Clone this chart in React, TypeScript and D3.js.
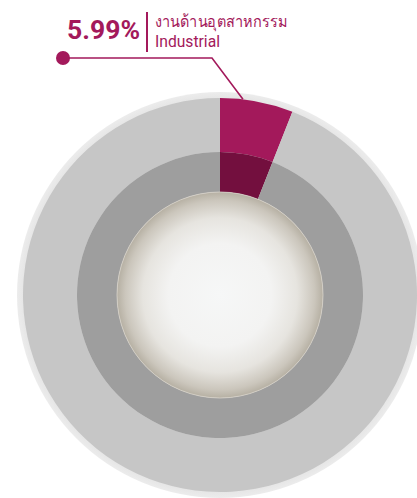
import React from "react";
import * as d3 from "d3";

const categories = ["งานด้านอุตสาหกรรม", "อื่นๆ"];
const categoriesEn = ["Industrial", "Other"];
const values = [5.99, 94.01];
const valueLabel = "5.99%";

const W = 417;
const H = 498;
const cx = 220;
const cy = 295;

export default function App() {
  const pie = d3.pie<number>().sort(null).value((d) => d)(values);
  const outerArc = d3.arc<d3.PieArcDatum<number>>().innerRadius(143).outerRadius(197);
  const innerArc = d3.arc<d3.PieArcDatum<number>>().innerRadius(103).outerRadius(143);
  const outerColors = ["#A3195B", "#C6C6C6"];
  const innerColors = ["#730F3E", "#9E9E9E"];

  const a0 = pie[0].startAngle + (pie[0].endAngle - pie[0].startAngle) * 0.31;
  const endX = cx + 197 * Math.sin(a0);
  const endY = cy - 197 * Math.cos(a0);
  const elbowX = 212;
  const elbowY = 58;
  const dotX = 63;

  return (
    <svg
      width={W}
      height={H}
      style={{ position: "fixed", left: 0, top: 0, display: "block", background: "#ffffff" }}
    >
      <defs>
        <radialGradient id="ringGrad" cx="50%" cy="50%" r="50%">
          <stop offset="0.94" stopColor="#DCDCDC" />
          <stop offset="0.97" stopColor="#E6E6E6" />
          <stop offset="1" stopColor="#ECECEC" />
        </radialGradient>
        <radialGradient id="centerGrad" cx="50%" cy="50%" r="50%">
          <stop offset="0" stopColor="#F6F7F7" />
          <stop offset="0.5" stopColor="#F3F3F2" />
          <stop offset="0.75" stopColor="#E6E4DF" />
          <stop offset="0.92" stopColor="#CBC6BC" />
          <stop offset="1" stopColor="#B6B0A3" />
        </radialGradient>
      </defs>
      <circle cx={cx} cy={cy} r={203} fill="url(#ringGrad)" />
      <g transform={`translate(${cx},${cy})`}>
        {pie.map((d, i) => (
          <path key={"o" + i} d={outerArc(d) || ""} fill={outerColors[i]} />
        ))}
        {pie.map((d, i) => (
          <path key={"i" + i} d={innerArc(d) || ""} fill={innerColors[i]} />
        ))}
        <circle r={103} fill="url(#centerGrad)" stroke="#D8D3CA" strokeWidth={0.8} />
      </g>
      <polyline
        points={`${dotX},${elbowY} ${elbowX},${elbowY} ${endX},${endY}`}
        fill="none"
        stroke="#A3195B"
        strokeWidth={1.6}
      />
      <circle cx={dotX} cy={elbowY} r={7} fill="#A3195B" />
      <text
        x={67}
        y={39}
        fontFamily="Roboto, 'Liberation Sans', sans-serif"
        fontWeight={700}
        fontSize={26}
        fill="#A3195B"
        textLength={73}
        lengthAdjust="spacingAndGlyphs"
      >
        {valueLabel}
      </text>
      <rect x={146} y={12} width={2} height={40} fill="#A3195B" />
      <text
        x={155}
        y={26.5}
        fontFamily="'Noto Sans', 'DejaVu Sans', sans-serif"
        fontSize={16}
        fill="#A3195B"
        textLength={133}
        lengthAdjust="spacingAndGlyphs"
      >
        {categories[0]}
      </text>
      <text
        x={155}
        y={46.5}
        fontFamily="Roboto, 'Liberation Sans', sans-serif"
        fontSize={17}
        fill="#A3195B"
        textLength={65}
        lengthAdjust="spacingAndGlyphs"
      >
        {categoriesEn[0]}
      </text>
    </svg>
  );
}
